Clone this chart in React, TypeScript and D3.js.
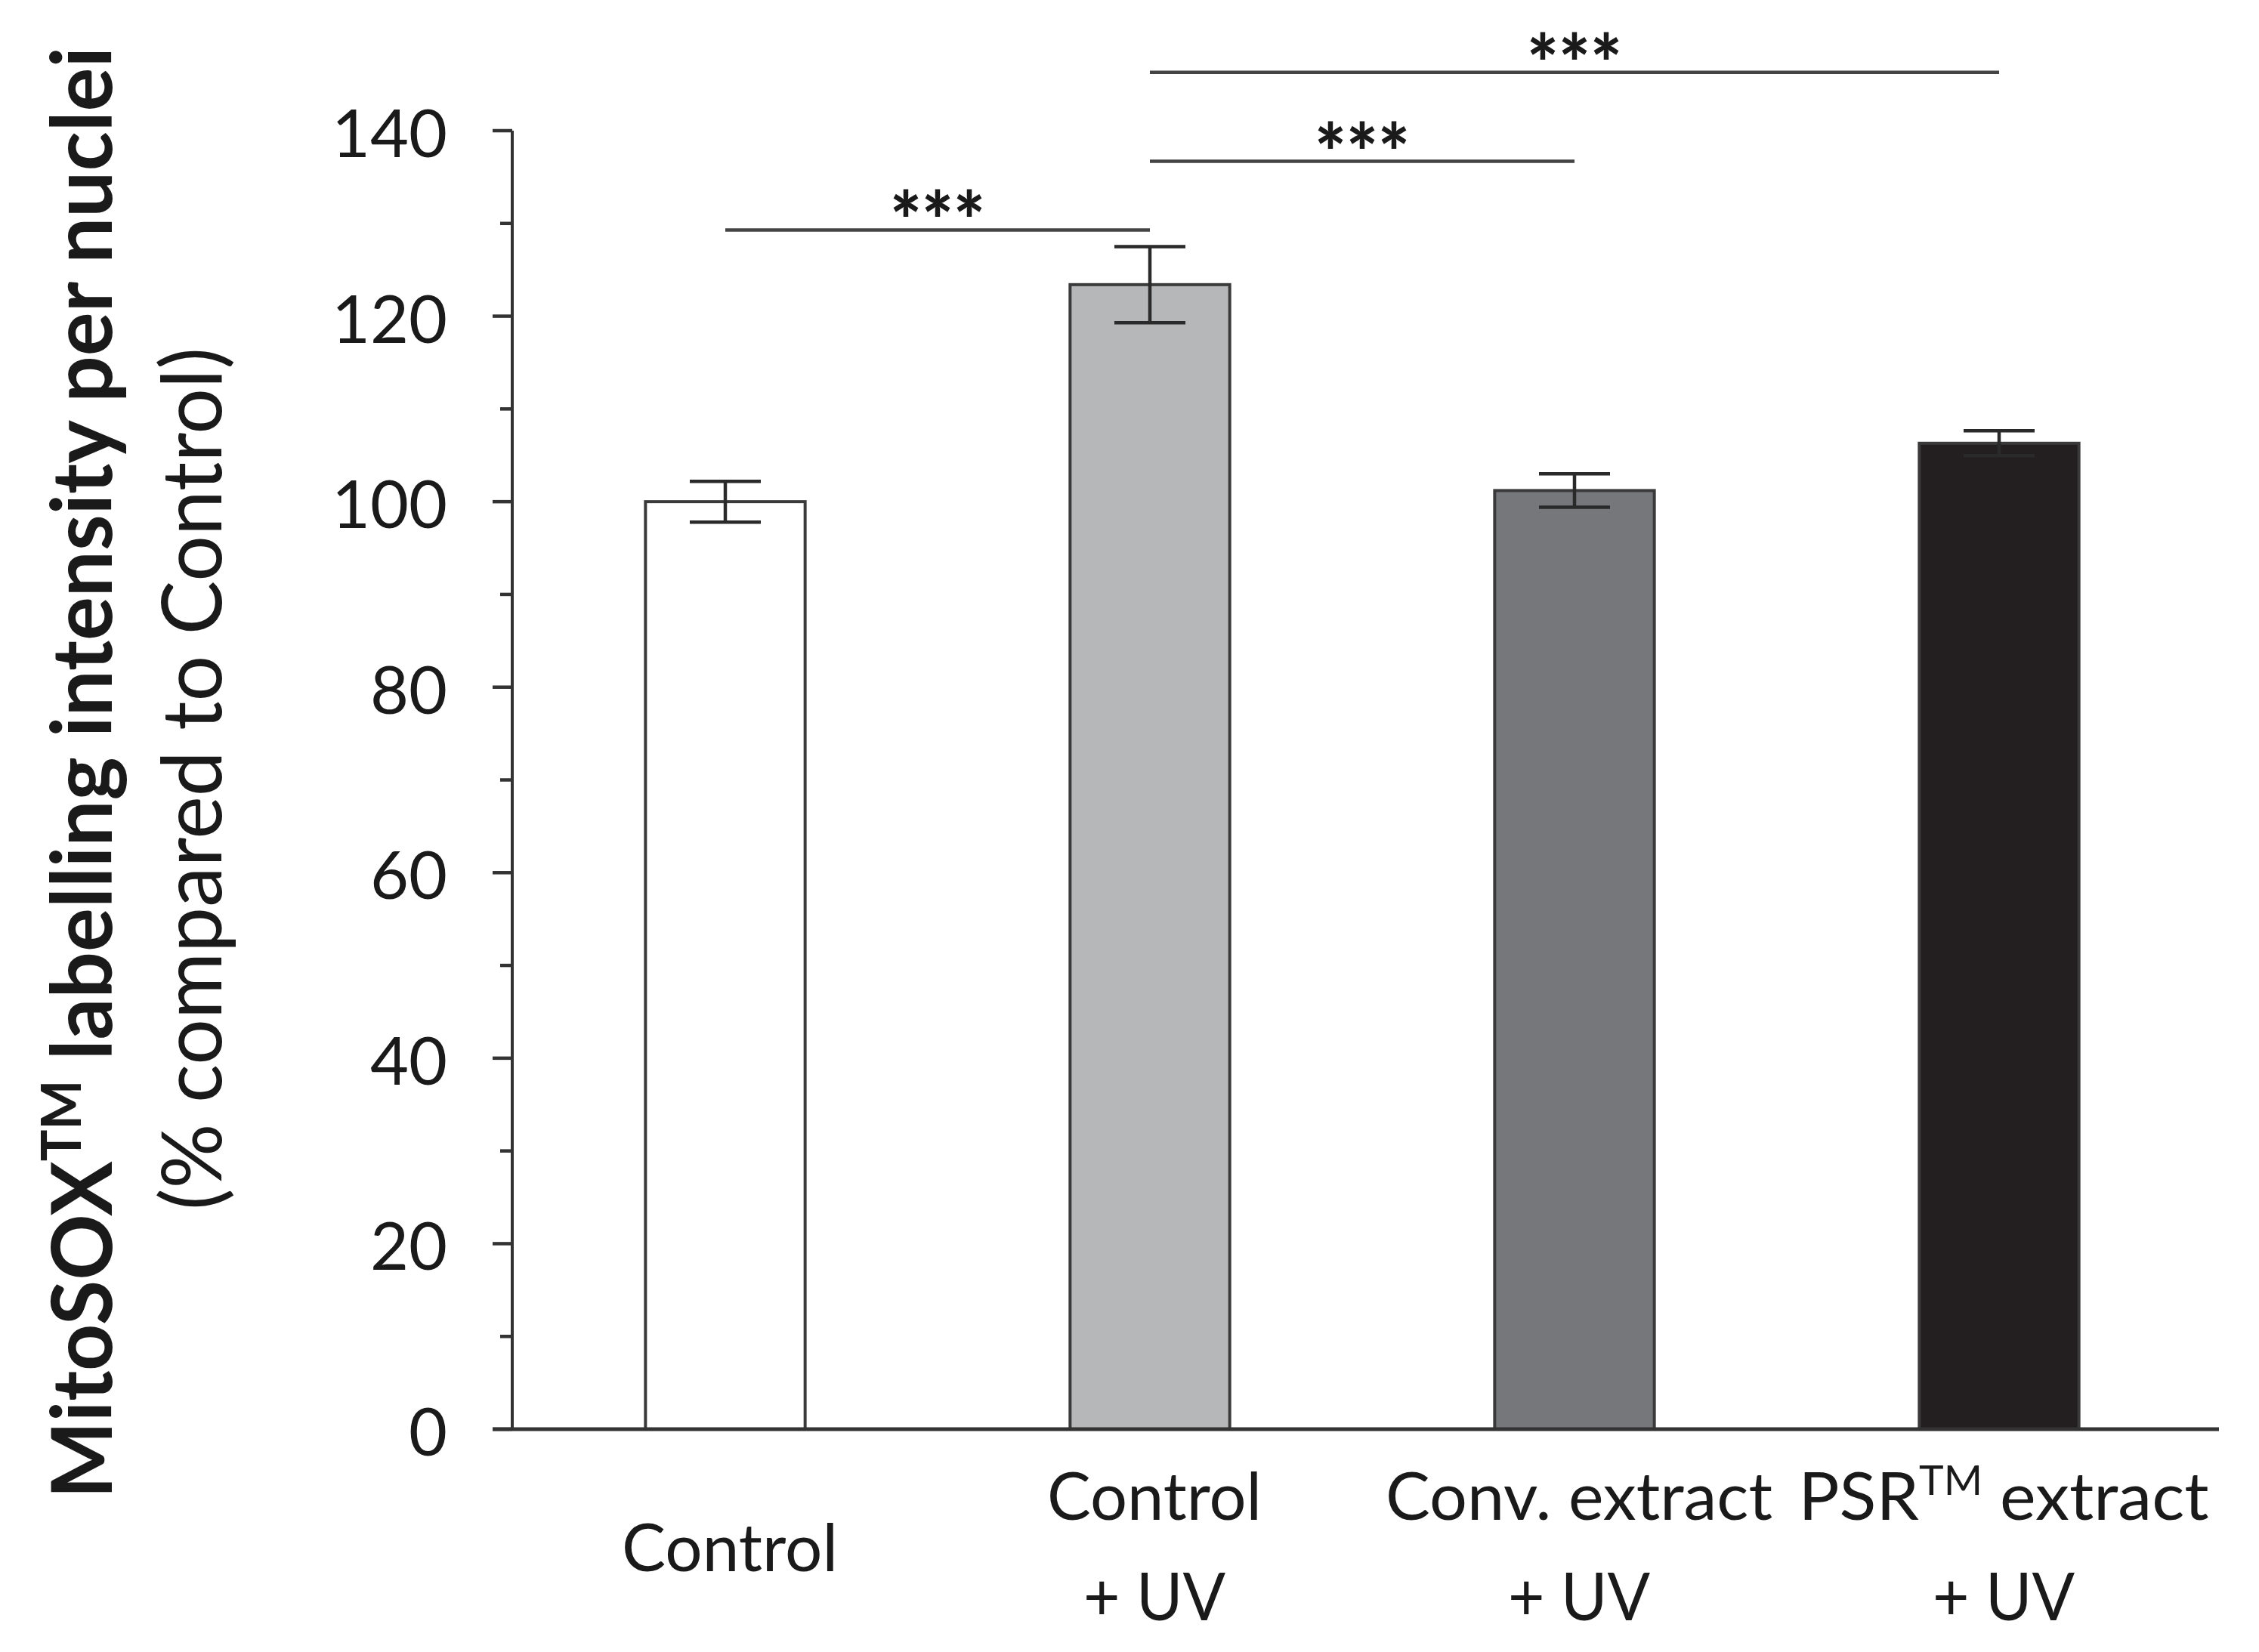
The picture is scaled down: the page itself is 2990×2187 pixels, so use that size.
import React from "react";
import * as d3 from "d3";

// ---- data ----
const categories = ["Control", "Control + UV", "Conv. extract + UV", "PSR extract + UV"];
const values = [100, 123.4, 101.2, 106.3];
const errors = [2.2, 4.1, 1.8, 1.35];
const barFills = ["#ffffff", "#b6b7b9", "#76777b", "#231f20"];
const labelLines: string[][] = [["Control"], ["Control", "+ UV"], ["Conv. extract", "+ UV"], ["PSR™ extract", "+ UV"]];
const labelWidths: number[][] = [[286], [284, 188], [512, 188], [543, 188]];
const majorTicks = [0, 20, 40, 60, 80, 100, 120, 140];
const minorTicks = [10, 30, 50, 70, 90, 110, 130];
const compFrom = [0, 1, 1];
const compTo = [1, 2, 3];
const compLevel = [129.3, 136.7, 146.3];
const compLabel = ["***", "***", "***"];

const W = 2990;
const H = 2187;
const FONT = "Lato, 'Open Sans', 'DejaVu Sans', sans-serif";
const INK = "#1a1a1a";

function renderSup(str: string, size: number, supSize: number, shift: number) {
  const parts = str.split("™");
  if (parts.length === 1) return str;
  return (
    <>
      {parts[0]}
      <tspan fontSize={supSize} dy={-shift}>TM</tspan>
      <tspan dy={shift}>{parts[1]}</tspan>
    </>
  );
}

export default function App() {
  const y = d3.scaleLinear().domain([0, 140]).range([1892, 173]);
  const x = d3
    .scaleBand<string>()
    .domain(categories)
    .range([679, 2927])
    .paddingInner(0.624)
    .paddingOuter(0.312);
  const bw = x.bandwidth();
  const cx = (i: number) => (x(categories[i]) as number) + bw / 2;
  const axisX = 678;
  const y0 = y(0);

  return (
    <svg
      width={W}
      height={H}
      viewBox={`0 0 ${W} ${H}`}
      style={{ position: "absolute", left: 0, top: 0, background: "#fff" }}
    >
      <rect x={0} y={0} width={W} height={H} fill="#fff" />

      {/* bars */}
      {categories.map((c, i) => (
        <rect
          key={c}
          x={x(c)}
          y={y(values[i])}
          width={bw}
          height={y0 - y(values[i])}
          fill={barFills[i]}
          stroke="#3a3a3a"
          strokeWidth={4}
        />
      ))}

      {/* error bars */}
      {categories.map((c, i) => {
        const top = y(values[i] + errors[i]);
        const bot = y(values[i] - errors[i]);
        const xc = cx(i);
        return (
          <g key={"e" + c} stroke="#2a2a2a" strokeWidth={4.5}>
            <line x1={xc} x2={xc} y1={top} y2={bot} />
            <line x1={xc - 47} x2={xc + 47} y1={top} y2={top} />
            <line x1={xc - 47} x2={xc + 47} y1={bot} y2={bot} />
          </g>
        );
      })}

      {/* y axis */}
      <line x1={axisX} x2={axisX} y1={y(0)} y2={y(140)} stroke="#333" strokeWidth={4} />
      {majorTicks.map((t) => (
        <line key={"M" + t} x1={652} x2={axisX} y1={y(t)} y2={y(t)} stroke="#333" strokeWidth={4.5} />
      ))}
      {minorTicks.map((t) => (
        <line key={"m" + t} x1={662} x2={axisX} y1={y(t)} y2={y(t)} stroke="#333" strokeWidth={4.5} />
      ))}
      {majorTicks.map((t) => (
        <text
          key={"l" + t}
          x={592}
          y={y(t) + 35}
          textAnchor="end"
          fontFamily={FONT}
          fontSize={88}
          fill={INK}
        >
          {t}
        </text>
      ))}

      {/* x axis */}
      <line x1={652} x2={2937} y1={y0} y2={y0} stroke="#333" strokeWidth={5} />

      {/* x labels */}
      {labelLines.map((lines, i) => {
        const baselines = lines.length === 1 ? [2080] : [2012, 2145];
        return lines.map((ln, j) => (
          <text
            key={"x" + i + "_" + j}
            x={cx(i) + 6}
            y={baselines[j]}
            textAnchor="middle"
            fontFamily={FONT}
            fontSize={88}
            fill={INK}
            textLength={labelWidths[i][j]}
            lengthAdjust="spacingAndGlyphs"
          >
            {renderSup(ln, 88, 54, 33)}
          </text>
        ));
      })}

      {/* significance brackets */}
      {compFrom.map((f, k) => {
        const x1 = cx(f);
        const x2 = cx(compTo[k]);
        const ly = y(compLevel[k]);
        return (
          <g key={"c" + k}>
            <line x1={x1} x2={x2} y1={ly} y2={ly} stroke="#444" strokeWidth={4.5} />
            <text
              x={(x1 + x2) / 2}
              y={ly + 26}
              textAnchor="middle"
              fontFamily={FONT}
              fontWeight={900}
              fontSize={104}
              fill={INK}
              textLength={126}
              lengthAdjust="spacingAndGlyphs"
            >
              {compLabel[k]}
            </text>
          </g>
        );
      })}

      {/* y label */}
      <text
        transform={`translate(148, 1023) rotate(-90)`}
        textAnchor="middle"
        fontFamily={FONT}
        fontWeight={700}
        fontSize={112}
        fill={INK}
        textLength={1922}
        lengthAdjust="spacingAndGlyphs"
      >
        {renderSup("MitoSOX™ labelling intensity per nuclei", 112, 72, 41)}
      </text>
      <text
        transform={`translate(293, 1031) rotate(-90)`}
        textAnchor="middle"
        fontFamily={FONT}
        fontSize={110}
        fill={INK}
        textLength={1142}
        lengthAdjust="spacingAndGlyphs"
      >
        (% compared to Control)
      </text>
    </svg>
  );
}
